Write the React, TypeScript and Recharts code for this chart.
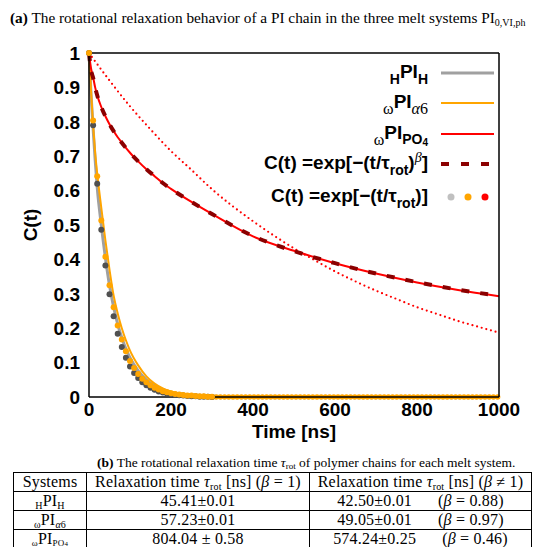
import React from 'react'
import { ComposedChart, Line, XAxis, YAxis, Legend } from 'recharts'

const xTicks = [0, 200, 400, 600, 800, 1000]
const yTicks = [0, 0.1, 0.2, 0.3, 0.4, 0.5, 0.6, 0.7, 0.8, 0.9, 1]

// simulated C(t) of the three systems
const simTime = [0, 5, 10, 15, 20, 30, 40, 50, 60, 70, 80, 90, 100, 120, 140, 160, 180, 200, 250, 300, 400, 500, 600, 700, 800, 900, 1000]
const hpiH = [1, 0.88, 0.78, 0.69, 0.61, 0.5, 0.405, 0.325, 0.262, 0.212, 0.172, 0.14, 0.114, 0.076, 0.05, 0.033, 0.022, 0.014, 0.005, 0.002, 0, 0, 0, 0, 0, 0, 0]
const wpiA6 = [1, 0.89, 0.79, 0.71, 0.65, 0.55, 0.455, 0.37, 0.295, 0.243, 0.2, 0.165, 0.135, 0.092, 0.06, 0.039, 0.025, 0.016, 0.006, 0.002, 0.001, 0, 0, 0, 0, 0, 0]
const wpiPO4 = [1, 0.955, 0.93, 0.9, 0.877, 0.843, 0.816, 0.793, 0.773, 0.755, 0.74, 0.724, 0.71, 0.685, 0.662, 0.642, 0.622, 0.605, 0.567, 0.532, 0.467, 0.425, 0.389, 0.359, 0.333, 0.311, 0.293]

// stretched exponential fit (beta != 1), PO4 only
const fitPO4 = [1, 0.95, 0.928, 0.9, 0.877, 0.843, 0.816, 0.793, 0.773, 0.755, 0.739, 0.724, 0.71, 0.685, 0.662, 0.642, 0.622, 0.605, 0.567, 0.532, 0.468, 0.424, 0.389, 0.359, 0.334, 0.312, 0.294]

// single exponential fits (beta = 1)
const dotTime = [0, 10, 20, 30, 40, 50, 60, 70, 80, 90, 100, 110, 120, 130, 140, 150, 160, 170, 180, 190, 200, 210, 220, 230, 240, 250, 260, 270, 280, 290, 300]
const expH = [1, 0.79, 0.62, 0.486, 0.382, 0.299, 0.235, 0.184, 0.145, 0.114, 0.089, 0.07, 0.055, 0.043, 0.034, 0.027, 0.021, 0.016, 0.013, 0.01, 0.008, 0.006, 0.005, 0.004, 0.003, 0.002, 0.002, 0.001, 0.001, 0.001, 0]
const expA6 = [1, 0.804, 0.642, 0.513, 0.408, 0.325, 0.261, 0.208, 0.167, 0.133, 0.105, 0.084, 0.067, 0.053, 0.043, 0.034, 0.027, 0.022, 0.017, 0.014, 0.011, 0.009, 0.007, 0.006, 0.004, 0.004, 0.003, 0.002, 0.002, 0.001, 0.001]
const tailTime = [300, 1000]
const tailVal = [0, 0]
const expPO4Time = [0, 50, 100, 150, 200, 250, 300, 350, 400, 450, 500, 550, 600, 650, 700, 750, 800, 850, 900, 950, 1000]
const expPO4 = [1, 0.92, 0.845, 0.778, 0.715, 0.66, 0.604, 0.555, 0.511, 0.47, 0.432, 0.398, 0.365, 0.336, 0.309, 0.285, 0.261, 0.241, 0.221, 0.204, 0.187]

const zip = (ts: number[], vs: number[]) => ts.map((t, i) => ({ t, v: vs[i] }))

const sans = '"Liberation Sans", Arial, Helvetica, sans-serif'
const serif = '"Liberation Serif", "DejaVu Serif", serif'
const tickFont = { fontFamily: sans, fontWeight: 700, fontSize: 19, fill: '#000' }
const frame = { stroke: '#000', strokeWidth: 1.5 }
const inTick = { stroke: '#000', strokeWidth: 1.2 }

const Lo = ({ children, size = 14, dy = 6, font = sans, weight = 700 }: any) => (
  <span style={{ fontSize: size, position: 'relative', top: dy, fontFamily: font, fontWeight: weight }}>{children}</span>
)

function LegendRow({ y, sample, children }: any) {
  return (
    <>
      <div style={{ position: 'absolute', right: 116, top: y - 15, height: 28, lineHeight: '28px', whiteSpace: 'nowrap', fontFamily: sans, fontWeight: 700, fontSize: 19, color: '#000' }}>
        {children}
      </div>
      <svg style={{ position: 'absolute', left: 440, top: y - 6 }} width={56} height={12}>
        {sample}
      </svg>
    </>
  )
}

function ChartLegend() {
  return (
    <div style={{ position: 'relative', width: 544, height: 450 }}>
      <LegendRow y={73} sample={<line x1={1} x2={54} y1={6} y2={6} stroke="#a0a0a0" strokeWidth={3} />}>
        <Lo>H</Lo>PI<Lo>H</Lo>
      </LegendRow>
      <LegendRow y={103} sample={<line x1={1} x2={54} y1={6} y2={6} stroke="#ffa500" strokeWidth={2} />}>
        <Lo font={serif} weight={400} size={16}>ω</Lo>PI<Lo font={serif} weight={400} size={16}><i>α</i>6</Lo>
      </LegendRow>
      <LegendRow y={134} sample={<line x1={1} x2={54} y1={6} y2={6} stroke="#ff0000" strokeWidth={2} />}>
        <Lo font={serif} weight={400} size={16}>ω</Lo>PI<Lo dy={5}>PO<Lo size={10} dy={2}>4</Lo></Lo>
      </LegendRow>
      <LegendRow y={164} sample={<line x1={1} x2={54} y1={6} y2={6} stroke="#8b0000" strokeWidth={4} strokeDasharray="8 12" />}>
        C(t) =exp[−(t/τ<Lo>rot</Lo>)<Lo font={serif} weight={400} size={14} dy={-7}><i>β</i></Lo>]
      </LegendRow>
      <LegendRow y={197} sample={<>
        <circle cx={11} cy={6} r={3.5} fill="#c0c0c0" />
        <circle cx={28} cy={6} r={3.5} fill="#ffa500" />
        <circle cx={45} cy={6} r={3.5} fill="#ff0000" />
      </>}>
        C(t) =exp[−(t/τ<Lo>rot</Lo>)]
      </LegendRow>
    </div>
  )
}

const cell: React.CSSProperties = { border: '1px solid #000', padding: 0, height: 18, lineHeight: '18px', textAlign: 'center', whiteSpace: 'nowrap' }
const SubS = ({ children, size = 10, dy = 3 }: any) => (
  <span style={{ fontSize: size, position: 'relative', top: dy, lineHeight: 0 }}>{children}</span>
)
const gap = <span style={{ display: 'inline-block', width: 26 }} />

export default function App() {
  return (
    <div style={{ position: 'absolute', left: 0, top: 0, width: 544, height: 547, background: '#fff', overflow: 'hidden', fontFamily: serif, color: '#000' }}>
      <div style={{ position: 'absolute', left: 10, top: 9, fontSize: 15.3, whiteSpace: 'nowrap' }}>
        <b>(a)</b> The rotational relaxation behavior of a PI chain in the three melt systems PI<SubS>0,VI,ph</SubS>
      </div>

      <div style={{ position: 'absolute', left: 0, top: 0 }}>
        <ComposedChart width={544} height={450} margin={{ top: 53, right: 45, bottom: 0, left: 0 }}>
          <XAxis xAxisId="x" dataKey="t" type="number" domain={[0, 1000]} ticks={xTicks} height={53}
            tickLine={false} tickSize={0} tickMargin={6} axisLine={frame} tick={tickFont}
            label={{ value: 'Time [ns]', position: 'insideBottom', offset: 12, style: { ...tickFont } }} />
          <XAxis xAxisId="xb" orientation="bottom" mirror type="number" domain={[0, 1000]} ticks={xTicks}
            tick={false} tickSize={7} axisLine={false} tickLine={inTick} />
          <XAxis xAxisId="xt" orientation="top" mirror type="number" domain={[0, 1000]} ticks={xTicks}
            tick={false} tickSize={7} axisLine={frame} tickLine={inTick} />
          <YAxis yAxisId="y" type="number" domain={[0, 1]} ticks={yTicks} width={89}
            tickLine={false} tickSize={0} tickMargin={9} axisLine={frame} tick={tickFont}
            label={{ value: 'C(t)', angle: -90, position: 'insideLeft', offset: 30, style: { ...tickFont, textAnchor: 'middle' } }} />
          <YAxis yAxisId="yl" orientation="left" mirror type="number" domain={[0, 1]} ticks={yTicks}
            tick={false} tickSize={7} axisLine={false} tickLine={inTick} />
          <YAxis yAxisId="yr" orientation="right" mirror type="number" domain={[0, 1]} ticks={yTicks}
            tick={false} tickSize={7} axisLine={frame} tickLine={inTick} />

          <Line xAxisId="x" yAxisId="y" data={zip(expPO4Time, expPO4)} dataKey="v" type="monotone"
            stroke="#ff0000" strokeWidth={2.2} strokeDasharray="0 4.8" strokeLinecap="round" dot={false} activeDot={false} isAnimationActive={false} />
          <Line xAxisId="x" yAxisId="y" data={zip(simTime, hpiH)} dataKey="v" type="monotone"
            stroke="#a0a0a0" strokeWidth={3} dot={false} activeDot={false} isAnimationActive={false} />
          <Line xAxisId="x" yAxisId="y" data={zip(dotTime, expH)} dataKey="v" stroke="none"
            dot={{ r: 3, fill: '#505050', stroke: 'none' }} activeDot={false} isAnimationActive={false} />
          <Line xAxisId="x" yAxisId="y" data={zip(simTime, wpiA6)} dataKey="v" type="monotone"
            stroke="#ffa500" strokeWidth={2} dot={false} activeDot={false} isAnimationActive={false} />
          <Line xAxisId="x" yAxisId="y" data={zip(dotTime, expA6)} dataKey="v" stroke="none"
            dot={{ r: 3, fill: '#ffa500', stroke: 'none' }} activeDot={false} isAnimationActive={false} />
          <Line xAxisId="x" yAxisId="y" data={zip(tailTime, tailVal)} dataKey="v"
            stroke="#ffa500" strokeWidth={5.5} strokeDasharray="0 4.2" strokeLinecap="round" dot={false} activeDot={false} isAnimationActive={false} />
          <Line xAxisId="x" yAxisId="y" data={zip(simTime, wpiPO4)} dataKey="v" type="monotone"
            stroke="#ff0000" strokeWidth={2} dot={false} activeDot={false} isAnimationActive={false} />
          <Line xAxisId="x" yAxisId="y" data={zip(simTime, fitPO4)} dataKey="v" type="monotone"
            stroke="#8b0000" strokeWidth={4} strokeDasharray="8 11" dot={false} activeDot={false} isAnimationActive={false} />

          <Legend layout="vertical" align="center" verticalAlign="middle" content={() => <ChartLegend />}
            wrapperStyle={{ left: 0, top: 0, width: 544, height: 450 }} />
        </ComposedChart>
      </div>

      <div style={{ position: 'absolute', left: 97, top: 455, fontSize: 13.5, whiteSpace: 'nowrap' }}>
        <b>(b)</b> The rotational relaxation time <i>τ</i><SubS size={9} dy={2}>rot</SubS> of polymer chains for each melt system.
      </div>

      <table style={{ position: 'absolute', left: 13, top: 472, borderCollapse: 'collapse', tableLayout: 'fixed', width: 518, fontSize: 16, letterSpacing: 0.2 }}>
        <colgroup>
          <col style={{ width: 73 }} />
          <col style={{ width: 223 }} />
          <col style={{ width: 222 }} />
        </colgroup>
        <tbody>
          <tr>
            <td style={cell}>Systems</td>
            <td style={cell}>Relaxation time <i>τ</i><SubS>rot</SubS> [ns] (<i>β</i> = 1)</td>
            <td style={cell}>Relaxation time <i>τ</i><SubS>rot</SubS> [ns] (<i>β</i> ≠ 1)</td>
          </tr>
          <tr>
            <td style={cell}><SubS>H</SubS>PI<SubS>H</SubS></td>
            <td style={cell}>45.41±0.01</td>
            <td style={cell}>42.50±0.01{gap}(<i>β</i> = 0.88)</td>
          </tr>
          <tr>
            <td style={cell}><SubS>ω</SubS>PI<SubS><i>α</i>6</SubS></td>
            <td style={cell}>57.23±0.01</td>
            <td style={cell}>49.05±0.01{gap}(<i>β</i> = 0.97)</td>
          </tr>
          <tr>
            <td style={cell}><SubS size={9} dy={2}>ω</SubS>PI<SubS size={9} dy={2}>PO<span style={{ fontSize: 7 }}>4</span></SubS></td>
            <td style={cell}>804.04 ± 0.58</td>
            <td style={cell}>574.24±0.25{gap}(<i>β</i> = 0.46)</td>
          </tr>
        </tbody>
      </table>
    </div>
  )
}
